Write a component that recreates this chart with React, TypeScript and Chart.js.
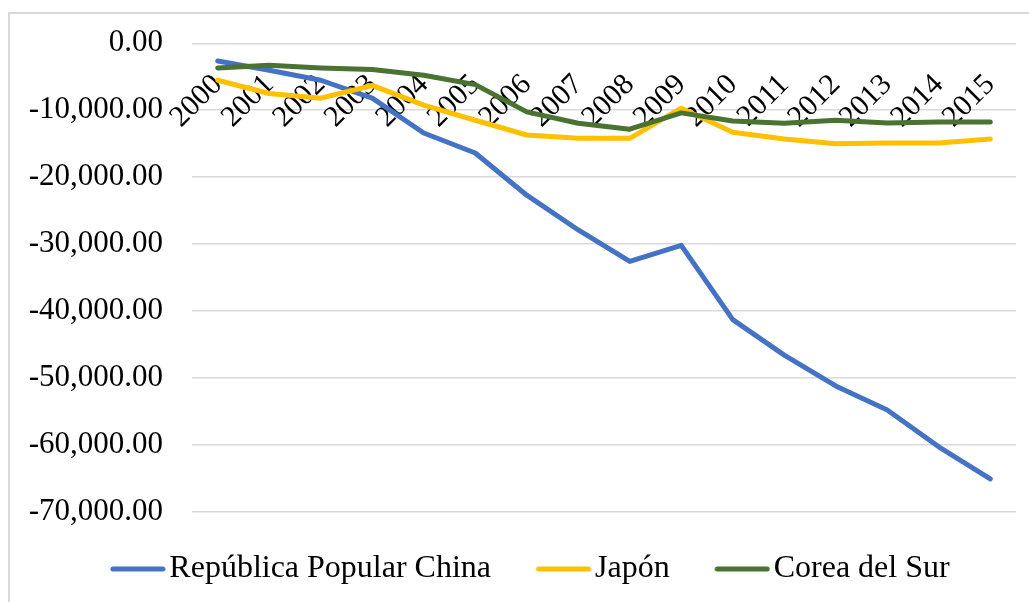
import { useEffect, useRef } from "react";
import { Chart, registerables } from "chart.js";

Chart.register(...registerables);

const years = ["2000", "2001", "2002", "2003", "2004", "2005", "2006", "2007", "2008", "2009", "2010", "2011", "2012", "2013", "2014", "2015"];
const china = [-2640, -4030, -5520, -8200, -13400, -16400, -22700, -27900, -32600, -30200, -41300, -46600, -51200, -54800, -60300, -65100];
const japan = [-5520, -7500, -8200, -6300, -9250, -11500, -13700, -14200, -14200, -9700, -13300, -14300, -15000, -14900, -14900, -14300];
const korea = [-3680, -3280, -3680, -3930, -4780, -6170, -10250, -11950, -12840, -10400, -11600, -11950, -11500, -11900, -11750, -11750];
const seriesNames = ["República Popular China", "Japón", "Corea del Sur"];
const seriesColors = ["#4472C4", "#FFC000", "#4A7230"];
const yMin = -70000;
const yMax = 0;
const yStep = 10000;

const FONT = '"Liberation Serif", "Times New Roman", serif';

function makeLegendLine(color: string): HTMLCanvasElement {
  const c = document.createElement("canvas");
  c.width = 102;
  c.height = 8;
  const ctx = c.getContext("2d")!;
  ctx.strokeStyle = color;
  ctx.lineWidth = 5;
  ctx.lineCap = "round";
  ctx.beginPath();
  ctx.moveTo(49, 4);
  ctx.lineTo(99, 4);
  ctx.stroke();
  return c;
}

export default function App() {
  const ref = useRef<HTMLCanvasElement | null>(null);

  useEffect(() => {
    if (!ref.current) return;
    const legendImgs = seriesColors.map(makeLegendLine);
    const seriesData = [china, japan, korea];
    const chart = new Chart(ref.current, {
      type: "line",
      data: {
        labels: years,
        datasets: seriesData.map((d, i) => ({
          label: seriesNames[i],
          data: d,
          borderColor: seriesColors[i],
          backgroundColor: seriesColors[i],
          borderWidth: 5,
          pointRadius: 0,
          tension: 0,
          borderCapStyle: "round" as const,
          borderJoinStyle: "round" as const,
          fill: false,
          order: 3 - i,
        })),
      },
      options: {
        responsive: false,
        devicePixelRatio: 1,
        animation: false,
        events: [],
        layout: { padding: { left: 0, right: 13, top: 29.3, bottom: 7 } },
        font: { family: FONT },
        scales: {
          x: {
            type: "category",
            position: { y: 0 } as any,
            offset: true,
            grid: {
              display: true,
              drawOnChartArea: false,
              drawTicks: true,
              tickLength: 21,
              color: "rgba(0,0,0,0)",
            },
            border: { display: false },
            ticks: {
              autoSkip: false,
              minRotation: 45,
              maxRotation: 45,
              padding: 3,
              color: "#000",
              font: { family: FONT, size: 30 },
            },
          },
          y: {
            min: yMin,
            max: yMax,
            afterFit: (s: any) => {
              s.width = 182;
            },
            grid: {
              color: "#d9d9d9",
              lineWidth: 1.5,
              drawTicks: true,
              tickLength: 20,
              tickColor: "rgba(0,0,0,0)",
            },
            border: { display: false },
            ticks: {
              stepSize: yStep,
              padding: 9,
              color: "#000",
              font: { family: FONT, size: 31 },
              callback: (v: any) =>
                Number(v).toLocaleString("en-US", { minimumFractionDigits: 2, maximumFractionDigits: 2 }),
            },
          },
        },
        plugins: {
          tooltip: { enabled: false },
          legend: {
            display: true,
            position: "bottom",
            title: { display: true, text: " ", padding: 0, font: { size: 10, lineHeight: 3.03 } },
            labels: {
              usePointStyle: true,
              pointStyleWidth: 77,
              padding: 11,
              color: "#000",
              font: { family: FONT, size: 32 },
              sort: (a: any, b: any) => a.datasetIndex - b.datasetIndex,
              generateLabels: (c: any) => {
                const items = Chart.defaults.plugins.legend.labels.generateLabels(c);
                return items.map((it: any) => ({ ...it, pointStyle: legendImgs[it.datasetIndex] }));
              },
            },
          },
        },
      },
    });
    return () => chart.destroy();
  }, []);

  return (
    <div
      style={{
        position: "fixed",
        left: 8,
        top: 12,
        width: 1023,
        height: 592,
        boxSizing: "border-box",
        border: "2px solid #d9d9d9",
        background: "#fff",
      }}
    >
      <canvas ref={ref} width={1019} height={588} style={{ display: "block", width: 1019, height: 588 }} />
    </div>
  );
}
